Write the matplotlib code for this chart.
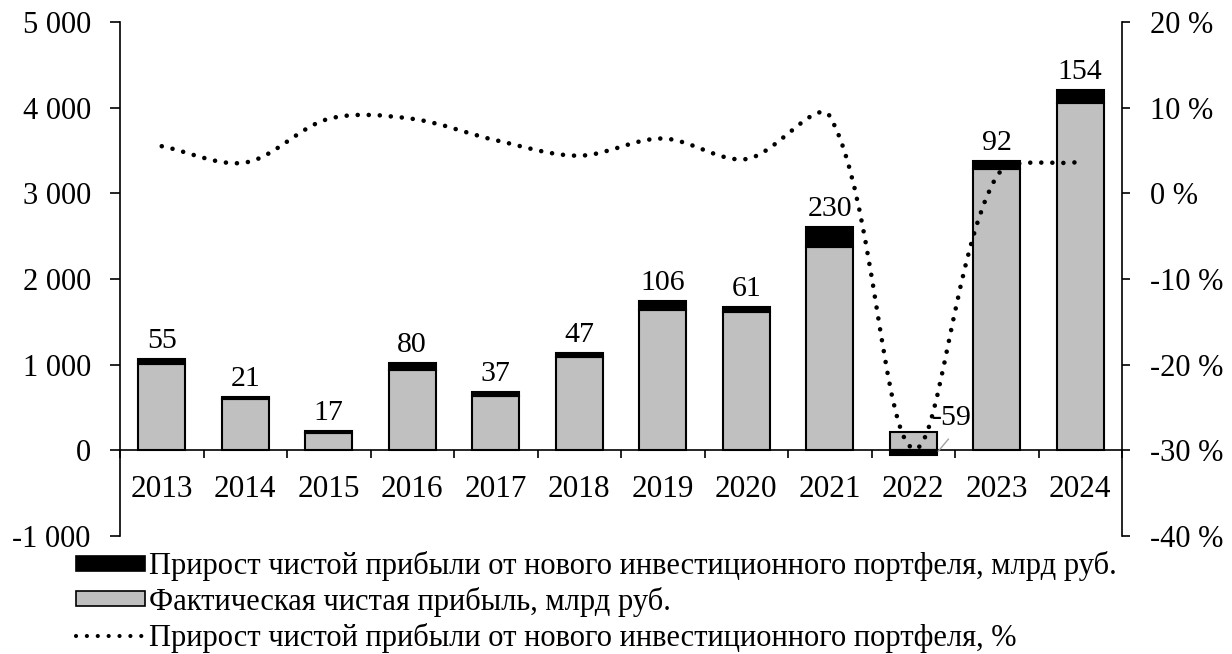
import numpy as np
import matplotlib
matplotlib.use("Agg")
import matplotlib.pyplot as plt
from matplotlib.path import Path
from matplotlib.patches import PathPatch, Patch
from matplotlib.lines import Line2D
from matplotlib.ticker import FixedLocator

plt.rcParams["font.family"] = ["Liberation Serif", "DejaVu Serif"]

years = ["2013", "2014", "2015", "2016", "2017", "2018",
         "2019", "2020", "2021", "2022", "2023", "2024"]
actual_profit = [1008, 598, 205, 936, 640, 1086, 1634, 1609, 2375, 210, 3284, 4051]
increment = [55, 21, 17, 80, 37, 47, 106, 61, 230, -59, 92, 154]
increment_pct = [5.5, 3.6, 8.7, 8.7, 6.2, 4.4, 6.4, 4.0, 9.0, -29.8, 2.0, 3.7]

left_ticks = [-1000, 0, 1000, 2000, 3000, 4000, 5000]
right_ticks = [-40, -30, -20, -10, 0, 10, 20]

LABEL_INC = "Прирост чистой прибыли от нового инвестиционного портфеля, млрд руб."
LABEL_ACT = "Фактическая чистая прибыль, млрд руб."
LABEL_PCT = "Прирост чистой прибыли от нового инвестиционного портфеля, %"

GRAY = "#c0c0c0"
DOTS = (0, (0.01, 2.4))

fig = plt.figure(figsize=(12.32, 6.54), dpi=100)
ax = fig.add_axes([120 / 1232, 1 - 536 / 654, 1002 / 1232, 514 / 654])
ax2 = ax.twinx()

x = np.arange(len(years))
bw = 0.56

ax.bar(x, actual_profit, width=bw, color=GRAY, edgecolor="black", linewidth=1.5, zorder=2)
inc_bottom = [a if v > 0 else 0 for a, v in zip(actual_profit, increment)]
ax.bar(x, increment, width=bw, bottom=inc_bottom, color="black",
       edgecolor="black", linewidth=1.5, zorder=2)

# value labels
for i, (b, v) in enumerate(zip(inc_bottom, increment)):
    if v > 0:
        ax.text(x[i], b + v + 60, str(v), ha="center", va="bottom", fontsize=21.5)
    else:
        ax.text(x[i] + 0.46, 375, str(v), ha="center", va="center", fontsize=21.5)
        ax.plot([x[i] + 0.3, x[i] + 0.42], [-10, 130], color="#a0a0a0", lw=1, zorder=3)

ax.set_xlim(-0.5, len(years) - 0.5)
ax.set_ylim(-1000, 5000)
ax.set_yticks(left_ticks)
ax.set_yticklabels([f"{t:,}".replace(",", " ") for t in left_ticks], fontsize=22)

# x axis sitting at zero, ticks between categories
ax.spines["bottom"].set_position(("data", 0))
ax.spines["top"].set_visible(False)
ax.spines["right"].set_visible(False)
ax.xaxis.set_major_locator(FixedLocator(np.arange(-0.5, len(years), 1.0)))
ax.xaxis.set_major_formatter(plt.NullFormatter())
ax.set_xticks(x, minor=True)
ax.set_xticklabels(years, minor=True, fontsize=22.5)
ax.tick_params(axis="x", which="major", direction="out", length=6, width=1.2)
ax.tick_params(axis="x", which="minor", length=0, pad=17.5)
ax.tick_params(axis="y", direction="out", length=7, width=1.2, pad=14)
for s in ("left", "bottom"):
    ax.spines[s].set_linewidth(1.2)

# right axis
ax2.set_ylim(-40, 20)
ax2.set_yticks(right_ticks)
ax2.set_yticklabels([f"{t} %" for t in right_ticks], fontsize=22)
ax2.tick_params(axis="y", direction="out", length=6, width=1.2, pad=14)
for s in ("left", "top", "bottom"):
    ax2.spines[s].set_visible(False)
ax2.spines["right"].set_linewidth(1.2)

# smoothed dotted line, Excel-like: Bezier controls weighted by screen distances
fig.canvas.draw()
to_px = ax2.transData
to_data = ax2.transData.inverted()
pts = to_px.transform(np.column_stack([x, increment_pct]).astype(float))
n = len(pts)
verts = [pts[0]]
codes = [Path.MOVETO]
t = 1.0 / 3.0
for i in range(n - 1):
    p0 = pts[max(i - 1, 0)]
    p1 = pts[i]
    p2 = pts[i + 1]
    p3 = pts[min(i + 2, n - 1)]
    d01 = np.hypot(*(p1 - p0))
    d12 = np.hypot(*(p2 - p1))
    d23 = np.hypot(*(p3 - p2))
    c1 = p1 + (p2 - p0) * t * d12 / (d01 + d12)
    c2 = p2 - (p3 - p1) * t * d12 / (d12 + d23)
    verts += [c1, c2, p2]
    codes += [Path.CURVE4] * 3
verts = to_data.transform(np.array(verts))
line = PathPatch(Path(verts, codes), fill=False, edgecolor="black", linewidth=3.3,
                 linestyle=DOTS, capstyle="round", zorder=5)
ax2.add_patch(line)

handles = [
    Patch(facecolor="black", edgecolor="black", linewidth=1.2),
    Patch(facecolor=GRAY, edgecolor="black", linewidth=1.2),
    Line2D([0], [0], color="black", linewidth=3.0, linestyle=(0, (0.01, 2.6)),
           dash_capstyle="round"),
]
fig.legend(handles, [LABEL_INC, LABEL_ACT, LABEL_PCT], loc="upper left",
           bbox_to_anchor=(73 / 1232, 1 - 548 / 654), frameon=False, fontsize=22,
           handlelength=2.25, handleheight=0.38, handletextpad=0.15, labelspacing=0.19,
           borderpad=0.1, borderaxespad=0)

fig.savefig("out.png", dpi=100)
